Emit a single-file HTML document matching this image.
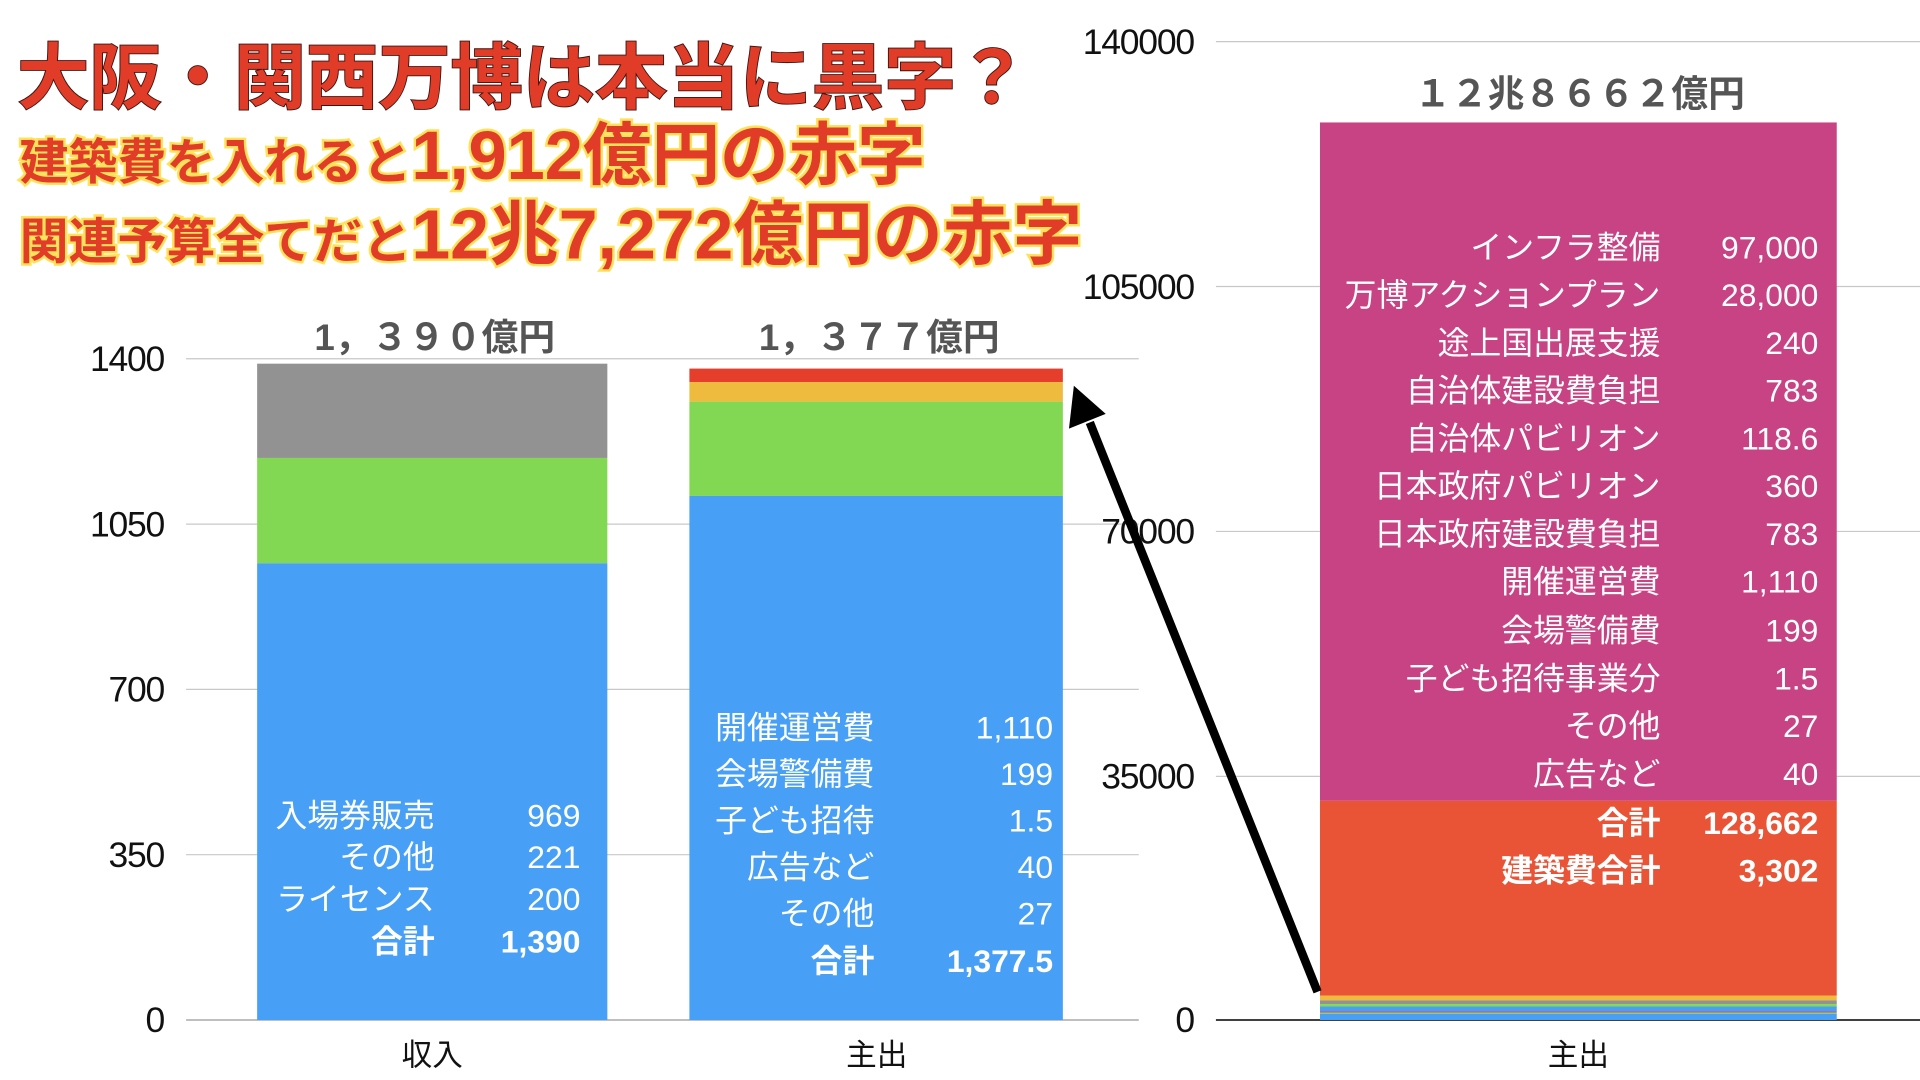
<!DOCTYPE html>
<html><head><meta charset="utf-8"><style>
html,body{margin:0;padding:0;background:#fff;width:1920px;height:1080px;overflow:hidden}
svg{display:block}
text{font-family:"Liberation Sans","Noto Sans CJK JP",sans-serif}
</style></head><body>
<svg width="1920" height="1080" viewBox="0 0 1568 882" preserveAspectRatio="none" xmlns="http://www.w3.org/2000/svg">
<g stroke="#c8c8c8" stroke-width="1">
<line x1="152" y1="293" x2="930" y2="293"/><line x1="152" y1="428" x2="930" y2="428"/>
<line x1="152" y1="563" x2="930" y2="563"/><line x1="152" y1="698" x2="930" y2="698"/>
<line x1="993" y1="34" x2="1568" y2="34"/><line x1="993" y1="234" x2="1568" y2="234"/>
<line x1="993" y1="434" x2="1568" y2="434"/><line x1="993" y1="634" x2="1568" y2="634"/>
</g>
<line x1="152" y1="833" x2="930" y2="833" stroke="#999" stroke-width="1"/>
<line x1="993" y1="833" x2="1568" y2="833" stroke="#000" stroke-width="1.2"/>
<g font-size="29" fill="#111" text-anchor="end" letter-spacing="-1">
<text x="134" y="303">1400</text><text x="134" y="438">1050</text><text x="134" y="573">700</text><text x="134" y="708">350</text><text x="134" y="843">0</text>
<text x="975" y="44">140000</text><text x="975" y="244">105000</text><text x="975" y="444">70000</text><text x="975" y="644">35000</text><text x="975" y="843">0</text>
</g>
<rect x="210" y="297" width="286" height="77" fill="#929292"/>
<rect x="210" y="374" width="286" height="86" fill="#82d753"/>
<rect x="210" y="460" width="286" height="373" fill="#47a0f6"/>
<rect x="563" y="301" width="305" height="11" fill="#e53f2b"/>
<rect x="563" y="312" width="305" height="16" fill="#eebb3f"/>
<rect x="563" y="328" width="305" height="77" fill="#82d753"/>
<rect x="563" y="405" width="305" height="428" fill="#47a0f6"/>
<rect x="1078" y="100" width="422" height="554" fill="#c84384"/>
<rect x="1078" y="654" width="422" height="159" fill="#e95437"/>
<rect x="1078" y="813" width="422" height="4" fill="#eebb3f"/>
<rect x="1078" y="817" width="422" height="3" fill="#929292"/>
<rect x="1078" y="820" width="422" height="2" fill="#82d753"/>
<rect x="1078" y="822" width="422" height="4" fill="#47a0f6"/>
<rect x="1078" y="826" width="422" height="1" fill="#c84384"/>
<rect x="1078" y="827" width="422" height="1" fill="#82d753"/>
<rect x="1078" y="828" width="422" height="5" fill="#47a0f6"/>
<g font-size="30" font-weight="bold" fill="#555" text-anchor="middle">
<text x="355" y="286">1，３９０億円</text>
<text x="718" y="286">1，３７７億円</text>
<text x="1290" y="87">１２兆８６６２億円</text>
</g>
<g font-size="25" fill="#111" text-anchor="middle">
<text x="353" y="870">収入</text><text x="716" y="870">主出</text><text x="1289" y="870">主出</text>
</g>
<g font-size="26" fill="#fff">
<g text-anchor="end">
<text x="355" y="675">入場券販売</text><text x="355" y="709">その他</text><text x="355" y="743">ライセンス</text>
<text x="355" y="778" font-weight="bold">合計</text>
<text x="474" y="675">969</text><text x="474" y="709">221</text><text x="474" y="743">200</text>
<text x="474" y="778" font-weight="bold">1,390</text>
<text x="714" y="603">開催運営費</text><text x="714" y="641">会場警備費</text><text x="714" y="679">子ども招待</text>
<text x="714" y="717">広告など</text><text x="714" y="755">その他</text><text x="714" y="794" font-weight="bold">合計</text>
<text x="860" y="603">1,110</text><text x="860" y="641">199</text><text x="860" y="679">1.5</text>
<text x="860" y="717">40</text><text x="860" y="755">27</text><text x="860" y="794" font-weight="bold">1,377.5</text>
</g>
<g text-anchor="end">
<text x="1356" y="211">インフラ整備</text><text x="1485" y="211">97,000</text>
<text x="1356" y="250">万博アクションプラン</text><text x="1485" y="250">28,000</text>
<text x="1356" y="289">途上国出展支援</text><text x="1485" y="289">240</text>
<text x="1356" y="328">自治体建設費負担</text><text x="1485" y="328">783</text>
<text x="1356" y="367">自治体パビリオン</text><text x="1485" y="367">118.6</text>
<text x="1356" y="406">日本政府パビリオン</text><text x="1485" y="406">360</text>
<text x="1356" y="445">日本政府建設費負担</text><text x="1485" y="445">783</text>
<text x="1356" y="484">開催運営費</text><text x="1485" y="484">1,110</text>
<text x="1356" y="524">会場警備費</text><text x="1485" y="524">199</text>
<text x="1356" y="563">子ども招待事業分</text><text x="1485" y="563">1.5</text>
<text x="1356" y="602">その他</text><text x="1485" y="602">27</text>
<text x="1356" y="641">広告など</text><text x="1485" y="641">40</text>
<text x="1356" y="681" font-weight="bold">合計</text><text x="1485" y="681" font-weight="bold">128,662</text>
<text x="1356" y="720" font-weight="bold">建築費合計</text><text x="1485" y="720" font-weight="bold">3,302</text>
</g>
</g>
<line x1="1076" y1="810" x2="890" y2="345" stroke="#000" stroke-width="7"/>
<polygon points="877,315 873,350 903,338" fill="#000"/>
<text x="14" y="84" font-size="59" font-weight="bold" fill="#e03c28" stroke="#3a1410" stroke-width="1.5" paint-order="stroke">大阪・関西万博は本当に黒字？</text>
<g font-weight="bold" fill="#e03c28" stroke="#ffe25a" stroke-width="4" paint-order="stroke">
<text x="16" y="146" font-size="40">建築費を入れると<tspan font-size="56">1,912億円の赤字</tspan></text>
<text x="16" y="211" font-size="40">関連予算全てだと<tspan font-size="57">12兆7,272億円の赤字</tspan></text>
</g>
</svg>
</body></html>
